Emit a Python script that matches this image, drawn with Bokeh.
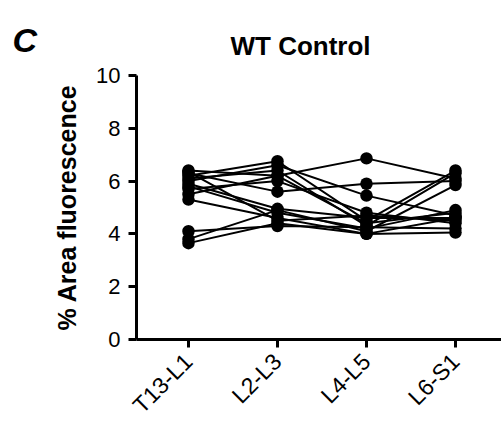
import math
from bokeh.plotting import figure
from bokeh.models import Range1d, FixedTicker, Label
from bokeh.embed import file_html
from bokeh.resources import INLINE

categories = ["T13-L1", "L2-L3", "L4-L5", "L6-S1"]
y_ticks = [0, 2, 4, 6, 8, 10]

# one list per animal: values at T13-L1, L2-L3, L4-L5, L6-S1
animal_01 = [6.40, 6.20, 6.86, 6.10]
animal_02 = [6.30, 5.60, 5.90, 6.00]
animal_03 = [6.20, 6.75, 4.50, 6.40]
animal_04 = [6.10, 6.40, 4.30, 6.30]
animal_05 = [6.00, 6.60, 5.45, 4.70]
animal_06 = [5.90, 4.95, 4.60, 4.60]
animal_07 = [5.80, 4.80, 4.20, 4.90]
animal_08 = [5.70, 6.00, 4.80, 4.40]
animal_09 = [5.50, 6.20, 4.40, 4.80]
animal_10 = [5.30, 4.60, 4.00, 4.05]
animal_11 = [6.35, 4.50, 4.70, 4.50]
animal_12 = [4.10, 4.30, 4.25, 4.20]
animal_13 = [3.80, 4.90, 4.10, 5.85]
animal_14 = [3.65, 4.40, 4.00, 4.60]

animals = [animal_01, animal_02, animal_03, animal_04, animal_05, animal_06, animal_07,
           animal_08, animal_09, animal_10, animal_11, animal_12, animal_13, animal_14]

FONT = "Liberation Sans"
x_pos = list(range(1, len(categories) + 1))

W, H = 501, 424
X_START, X_END = -1.112, 4.517
AXIS_X = 0.416          # where the y axis crosses (data units)
Y_START, Y_END = -3.22, 12.84

p = figure(width=W, height=H, output_backend="svg", toolbar_location=None,
           x_range=Range1d(X_START, X_END), y_range=Range1d(Y_START, Y_END),
           min_border=0)
p.outline_line_color = None
p.xgrid.visible = False
p.ygrid.visible = False
p.background_fill_color = "white"
p.border_fill_color = "white"

for a in animals:
    p.line(x_pos, a, line_color="black", line_width=2)
for a in animals:
    p.scatter(x_pos, a, size=12.5, fill_color="black", line_color="black", line_width=0)

# axes
p.xaxis.ticker = FixedTicker(ticks=x_pos)
p.xaxis.major_label_overrides = {i + 1: c for i, c in enumerate(categories)}
p.xaxis.major_label_orientation = math.pi / 4
p.xaxis.bounds = (AXIS_X, X_END)
p.xaxis.fixed_location = 0
p.yaxis.ticker = FixedTicker(ticks=y_ticks)
p.yaxis.bounds = (0, 10)
p.yaxis.fixed_location = AXIS_X
for ax in (p.xaxis, p.yaxis):
    ax.axis_line_width = 3
    ax.axis_line_color = "black"
    ax.major_tick_line_width = 3
    ax.major_tick_line_color = "black"
    ax.major_tick_in = 0
    ax.major_tick_out = 8
    ax.minor_tick_line_color = None
    ax.major_label_text_font = FONT
    ax.major_label_text_color = "black"
p.xaxis.major_label_text_font_size = "23px"
p.yaxis.major_label_text_font_size = "22px"
p.xaxis.major_label_standoff = 10
p.yaxis.major_label_standoff = 8

p.yaxis.axis_label = "% Area fluorescence"
p.yaxis.axis_label_text_font = FONT
p.yaxis.axis_label_text_font_size = "25px"
p.yaxis.axis_label_text_font_style = "bold"
p.yaxis.axis_label_text_color = "black"
p.yaxis.axis_label_standoff = 12

p.add_layout(Label(x=1.472, y=11.1, text="WT Control", text_font=FONT, text_font_size="26px",
                   text_font_style="bold", text_color="black", text_baseline="alphabetic"))
p.add_layout(Label(x=-0.978, y=11.36, text="C", text_font=FONT, text_font_size="34px",
                   text_font_style="bold italic", text_color="black", text_baseline="alphabetic"))

open("out.html", "w").write(file_html(p, INLINE))
